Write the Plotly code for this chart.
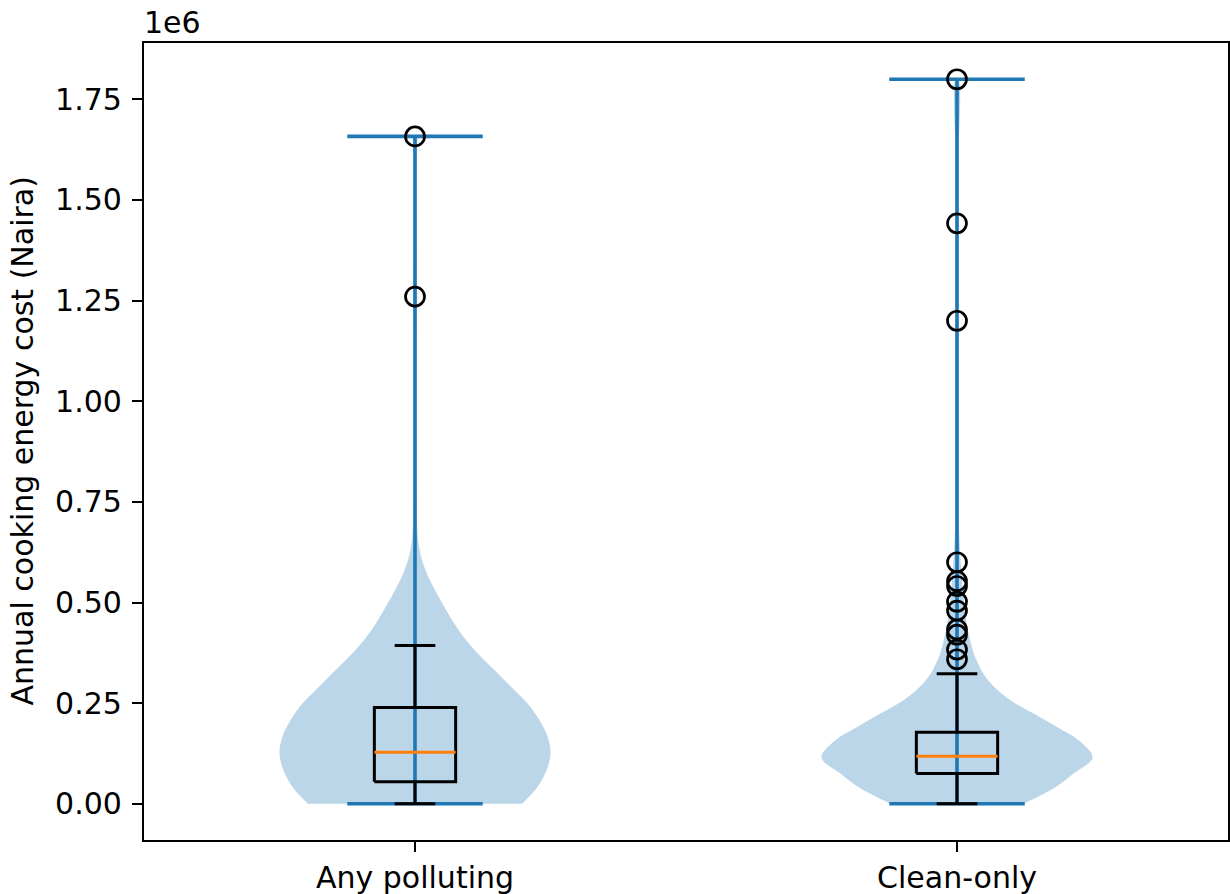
import plotly.graph_objects as go

# Groups and their x positions
categories = ["Any polluting", "Clean-only"]
positions = [1, 2]

# Box statistics (Naira)
q1 = [55000, 75500]
medians = [128000, 118000]
q3 = [239000, 177500]
whisker_lo = [0, 0]
whisker_hi = [393000, 323000]

# Range of each group (Naira)
data_min = [0, 0]
data_max = [1658000, 1800000]

# Points beyond the whiskers (Naira)
fliers_any = [1260000, 1658000]
fliers_clean = [359000, 383000, 420000, 433000, 480000, 502000, 541000,
                553000, 600000, 1200000, 1442000, 1800000]

# Kernel density profile: cost levels (Naira) and relative half-width
kde_levels_any = [0, 40000, 82000, 124000, 165000, 207000, 249000, 290000,
                  331000, 373000, 414000, 456000, 490000, 523000, 555000,
                  585000, 610000, 640000, 680000, 750000, 900000, 1100000,
                  1200000, 1260000, 1320000, 1450000, 1600000, 1658000]
kde_width_any = [0.79, 0.90, 0.97, 1.00, 0.98, 0.92, 0.83, 0.71,
                 0.59, 0.465, 0.36, 0.275, 0.215, 0.16, 0.11,
                 0.072, 0.048, 0.029, 0.017, 0.011, 0.010, 0.010,
                 0.012, 0.015, 0.012, 0.010, 0.010, 0.010]

kde_levels_clean = [0, 40000, 75000, 115000, 157000, 190000, 224000, 256000,
                    290000, 323000, 356000, 381000, 423000, 456000, 500000,
                    550000, 600000, 650000, 700000, 800000, 1000000, 1200000,
                    1300000, 1442000, 1600000, 1800000]
kde_width_clean = [0.49, 0.72, 0.86, 1.00, 0.90, 0.74, 0.565, 0.40,
                   0.275, 0.195, 0.145, 0.117, 0.086, 0.068, 0.051,
                   0.038, 0.027, 0.019, 0.014, 0.011, 0.010, 0.011,
                   0.010, 0.011, 0.010, 0.010]

y_ticks = [0, 250000, 500000, 750000, 1000000, 1250000, 1500000, 1750000]

VIOLIN_HALF = 0.25
BAR_HALF = 0.125
BOX_HALF = 0.075
CAP_HALF = 0.0375

BLUE = "#1f77b4"
FILL = "rgba(31,119,180,0.3)"
ORANGE = "#ff7f0e"
FONT = "DejaVu Sans"
FONT_SIZE = 30

fig = go.Figure()

profiles = [(kde_levels_any, kde_width_any), (kde_levels_clean, kde_width_clean)]
fliers = [fliers_any, fliers_clean]

# Violin bodies
for p, (lv, wd) in zip(positions, profiles):
    xs = [p + w * VIOLIN_HALF for w in wd] + [p - w * VIOLIN_HALF for w in reversed(wd)]
    ys = list(lv) + list(reversed(lv))
    fig.add_trace(go.Scatter(x=xs, y=ys, mode="lines", fill="toself",
                             fillcolor=FILL, line=dict(width=0, shape="spline", smoothing=1.0),
                             hoverinfo="skip", showlegend=False))

# Violin extrema bars and centre line
for p, lo, hi in zip(positions, data_min, data_max):
    fig.add_trace(go.Scatter(
        x=[p, p, None, p - BAR_HALF, p + BAR_HALF, None, p - BAR_HALF, p + BAR_HALF],
        y=[lo, hi, None, lo, lo, None, hi, hi],
        mode="lines", line=dict(color=BLUE, width=3.6),
        hoverinfo="skip", showlegend=False))

# Box plots
for i, p in enumerate(positions):
    fig.add_trace(go.Scatter(
        x=[p - BOX_HALF, p + BOX_HALF, p + BOX_HALF, p - BOX_HALF, p - BOX_HALF],
        y=[q1[i], q1[i], q3[i], q3[i], q1[i]],
        mode="lines", line=dict(color="black", width=3),
        hoverinfo="skip", showlegend=False))
    fig.add_trace(go.Scatter(
        x=[p, p, None, p, p, None,
           p - CAP_HALF, p + CAP_HALF, None, p - CAP_HALF, p + CAP_HALF],
        y=[q1[i], whisker_lo[i], None, q3[i], whisker_hi[i], None,
           whisker_lo[i], whisker_lo[i], None, whisker_hi[i], whisker_hi[i]],
        mode="lines", line=dict(color="black", width=3),
        hoverinfo="skip", showlegend=False))
    fig.add_trace(go.Scatter(
        x=[p - BOX_HALF, p + BOX_HALF], y=[medians[i], medians[i]],
        mode="lines", line=dict(color=ORANGE, width=3),
        hoverinfo="skip", showlegend=False))
    fig.add_trace(go.Scatter(
        x=[p] * len(fliers[i]), y=fliers[i], mode="markers",
        marker=dict(symbol="circle-open", size=19, color="black", line=dict(width=2.7)),
        hoverinfo="skip", showlegend=False))

axis_common = dict(
    showline=True, linecolor="black", linewidth=2.2, mirror=True,
    ticks="outside", ticklen=10, tickwidth=2.2, tickcolor="black",
    showgrid=False, zeroline=False, automargin=False,
    tickfont=dict(family=FONT, size=FONT_SIZE, color="black"),
)

fig.update_xaxes(range=[0.5, 2.5], tickvals=positions, ticktext=categories, **axis_common)
fig.update_yaxes(range=[-90000, 1890000], tickvals=y_ticks,
                 ticktext=[f"{v / 1e6:.2f}" for v in y_ticks],
                 ticklabelstandoff=4, **axis_common)

fig.add_annotation(text="Annual cooking energy cost (Naira)", textangle=-90,
                   xref="paper", yref="paper", x=0, y=0.5, xshift=-122,
                   xanchor="center", yanchor="middle", showarrow=False,
                   font=dict(family=FONT, size=FONT_SIZE, color="black"))
fig.add_annotation(text="1e6", xref="paper", yref="paper", x=0, y=1,
                   xanchor="left", yanchor="bottom", yshift=1, xshift=-2, showarrow=False,
                   font=dict(family=FONT, size=FONT_SIZE, color="black"))

fig.update_layout(
    width=1230, height=894,
    margin=dict(l=144, r=2, t=43, b=54, pad=0, autoexpand=False),
    paper_bgcolor="white", plot_bgcolor="white",
    font=dict(family=FONT, color="black"),
)

fig.write_html("out.html")
